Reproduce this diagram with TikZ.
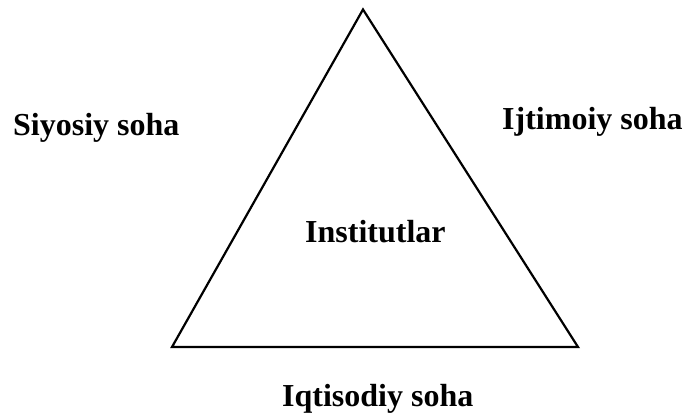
\documentclass[tikz,border=0pt]{standalone}
\usepackage{fontspec}
\setmainfont{Liberation Serif}
\usepackage{tikz}
\tikzset{soha/.style={font=\fontsize{32}{38}\selectfont\bfseries, inner sep=0pt, anchor=base west}}

\begin{document}
\begin{tikzpicture}[x=1pt, y=1pt]
    \useasboundingbox (0,0) rectangle (685,419);

    \coordinate (A) at (363,409.5);
    \coordinate (B) at (172,72);
    \coordinate (C) at (578,72);

    \draw[line width=2.2pt, line join=miter] (A) -- (B) -- (C) -- cycle;

    \node[soha] (siyosiy) at (13,283) {Siyosiy soha};
    \node[soha] (ijtimoiy) at (502,289) {Ijtimoiy soha};
    \node[soha] (institut) at (305,176) {Institutlar};
    \node[soha] (iqtisodiy) at (282,12) {Iqtisodiy soha};

\end{tikzpicture}
\end{document}
